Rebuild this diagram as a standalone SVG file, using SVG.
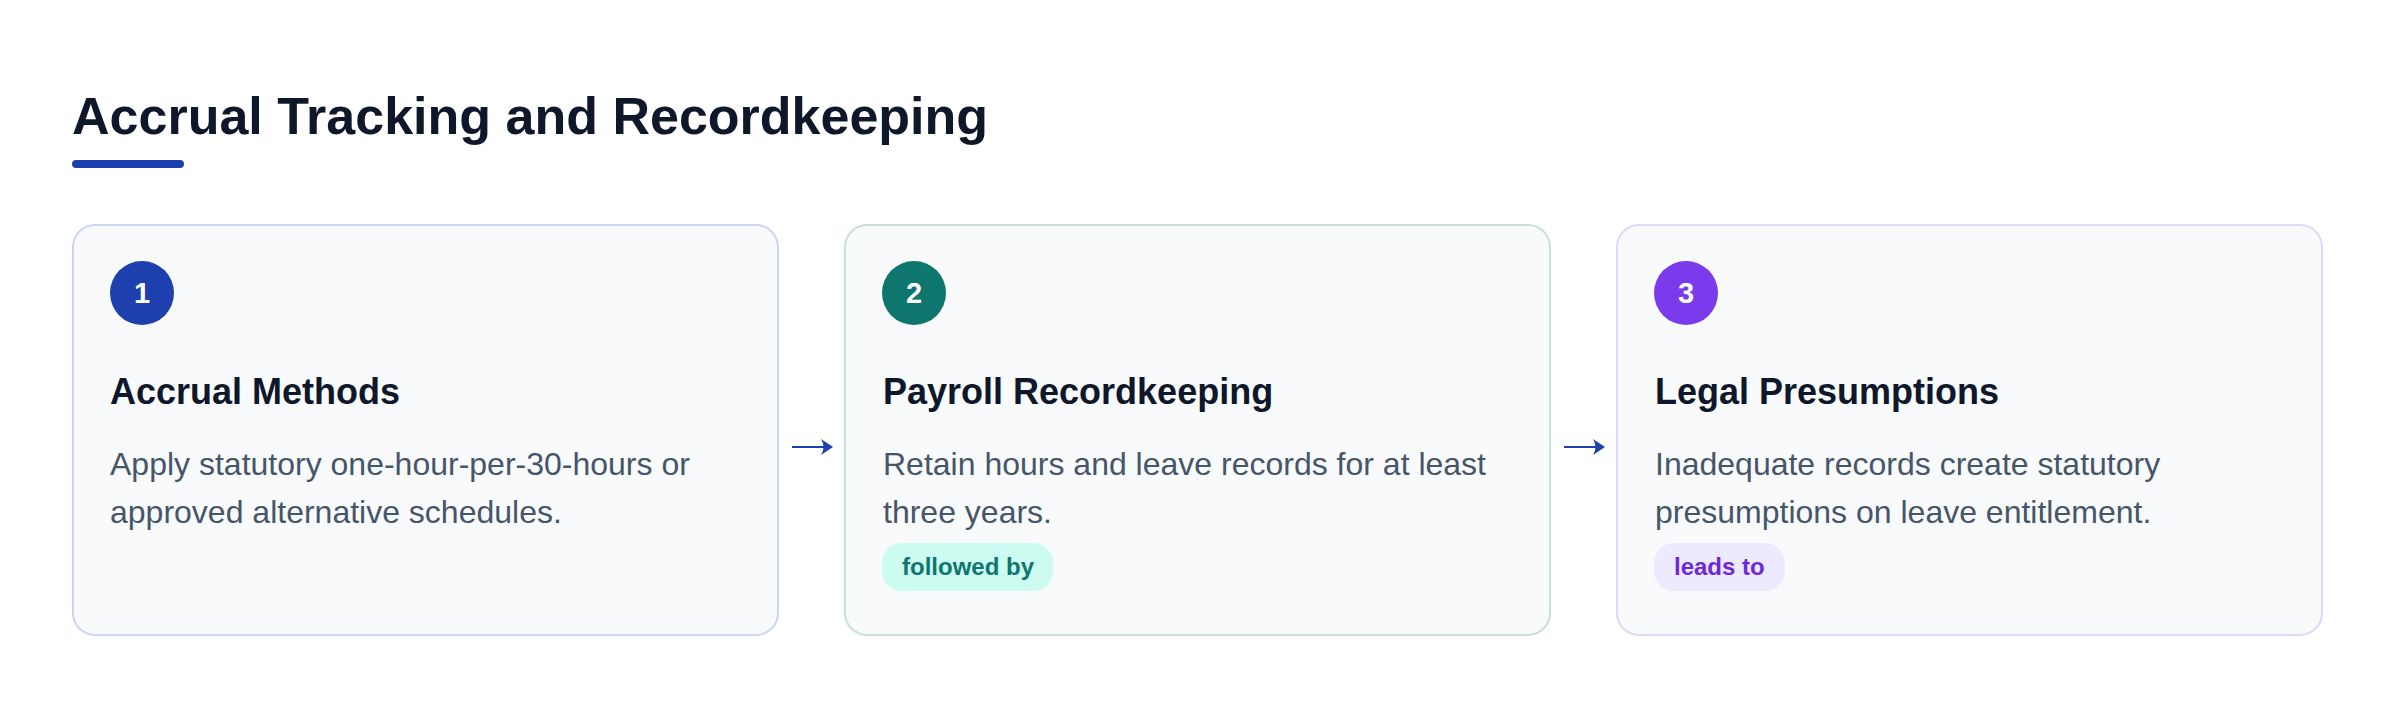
<svg xmlns="http://www.w3.org/2000/svg" width="2400" height="708" viewBox="0 0 2400 708">
<style>
text{font-family:"Liberation Sans",Arial,sans-serif}
.title{font-size:52px;font-weight:700;fill:#0f172a}
.card{fill:#f8fafc;stroke-width:2}
.num{font-size:29px;font-weight:700;fill:#ffffff;text-anchor:middle}
.head{font-size:36px;font-weight:700;fill:#0f172a}
.body{font-size:32px;fill:#475569}
.badge{font-size:24px;font-weight:700}
.conn{stroke:#1e40af;stroke-width:1.8;fill:none}
.head-fill{fill:#1e40af}
</style>
<rect width="2400" height="708" fill="#ffffff"/>
<g id="header">
<text class="title" x="72" y="134">Accrual Tracking and Recordkeeping</text>
<rect x="72" y="160" width="112" height="8" rx="4" fill="#1e40af"/>
</g>
<g id="node1">
<rect class="card" x="73" y="225" width="705" height="410" rx="22" stroke="#cdd5f3"/>
<circle cx="142" cy="293" r="32" fill="#1e40af"/>
<text class="num" x="142" y="303">1</text>
<text class="head" x="110" y="404">Accrual Methods</text>
<text class="body" x="110" y="475">Apply statutory one-hour-per-30-hours or</text>
<text class="body" x="110" y="523">approved alternative schedules.</text>
</g>
<g id="node2">
<rect class="card" x="845" y="225" width="705" height="410" rx="22" stroke="#c7e0dc"/>
<circle cx="914" cy="293" r="32" fill="#0f766e"/>
<text class="num" x="914" y="303">2</text>
<text class="head" x="883" y="404">Payroll Recordkeeping</text>
<text class="body" x="883" y="475">Retain hours and leave records for at least</text>
<text class="body" x="883" y="523">three years.</text>
<rect x="882" y="543" width="171" height="48" rx="20" fill="#ccfbf1"/>
<text class="badge" x="902" y="575" fill="#0f766e">followed by</text>
</g>
<g id="node3">
<rect class="card" x="1617" y="225" width="705" height="410" rx="22" stroke="#e0d8fb"/>
<circle cx="1686" cy="293" r="32" fill="#7c3aed"/>
<text class="num" x="1686" y="303">3</text>
<text class="head" x="1655" y="404">Legal Presumptions</text>
<text class="body" x="1655" y="475">Inadequate records create statutory</text>
<text class="body" x="1655" y="523">presumptions on leave entitlement.</text>
<rect x="1654" y="543" width="131" height="48" rx="20" fill="#ede9fe"/>
<text class="badge" x="1674" y="575" fill="#6d28d9">leads to</text>
</g>
<g id="connectors">
<path class="conn" d="M792 447 H828"/>
<path class="head-fill" d="M833 447 L821 439 Q826 447 821 455 Z"/>
<path class="conn" d="M1564 447 H1600"/>
<path class="head-fill" d="M1605 447 L1593 439 Q1598 447 1593 455 Z"/>
</g>
</svg>
